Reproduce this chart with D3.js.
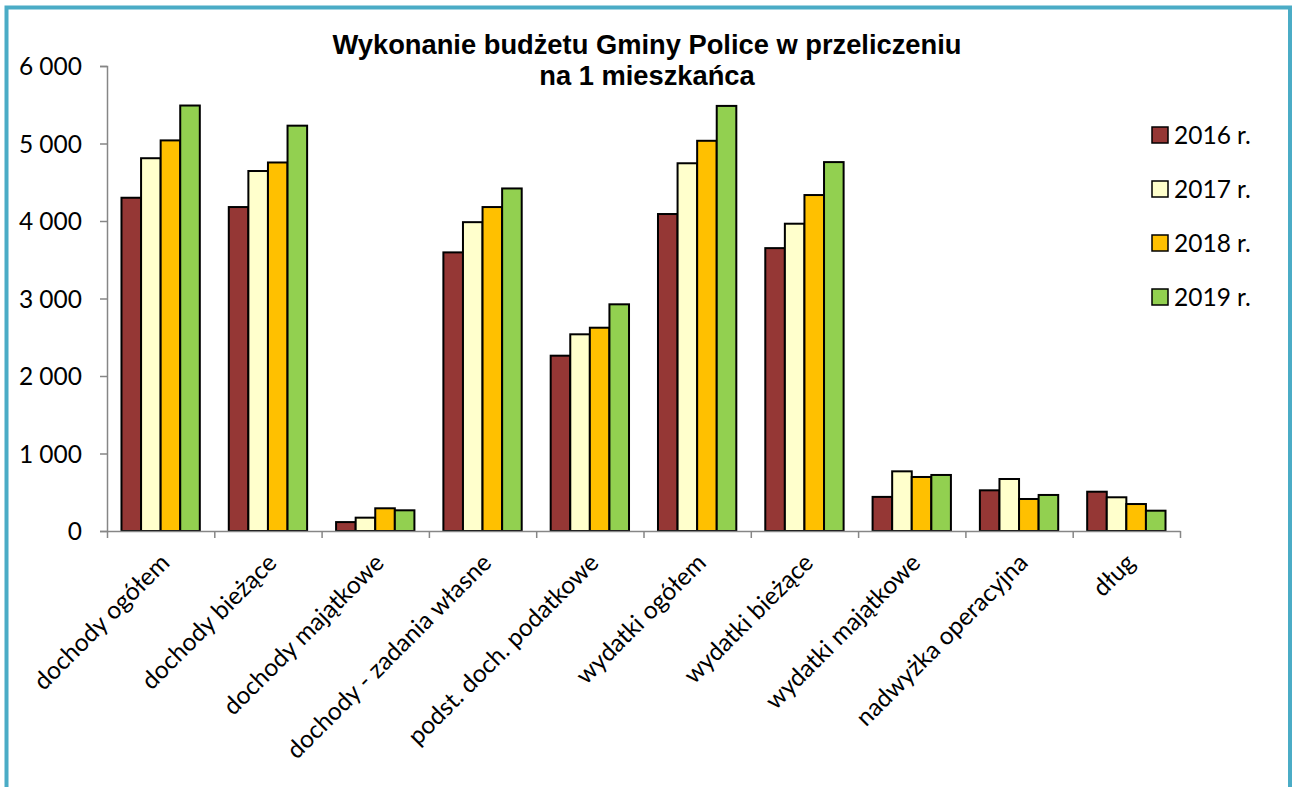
<!DOCTYPE html>
<html lang="pl">
<head>
<meta charset="utf-8">
<script src="https://cdn.jsdelivr.net/npm/d3@7"></script>
<style>
  html, body { margin: 0; padding: 0; background: #fff; }
  svg { display: block; }
  .lbl { font-family: Lato, "Open Sans", sans-serif; font-size: 24.5px; fill: #000; }
  .title { font-family: "Liberation Sans", Arial, sans-serif; font-weight: bold; font-size: 27.3px; fill: #000; }
</style>
</head>
<body>
<svg id="chart" width="1293" height="787"></svg>
<script>
// Budżet Gminy Police – wartości w zł na 1 mieszkańca
const categories = [
  "dochody ogółem",
  "dochody bieżące",
  "dochody majątkowe",
  "dochody - zadania własne",
  "podst. doch. podatkowe",
  "wydatki ogółem",
  "wydatki bieżące",
  "wydatki majątkowe",
  "nadwyżka operacyjna",
  "dług"
];
const years = ["2016 r.", "2017 r.", "2018 r.", "2019 r."];
const values2016 = [4300, 4180, 115, 3595, 2262, 4090, 3650, 440, 525, 507];
const values2017 = [4810, 4645, 172, 3985, 2538, 4745, 3965, 770, 671, 435];
const values2018 = [5040, 4755, 293, 4180, 2623, 5035, 4335, 697, 413, 348];
const values2019 = [5490, 5230, 267, 4420, 2925, 5485, 4760, 723, 465, 262];
const yTicks = [0, 1000, 2000, 3000, 4000, 5000, 6000];
const titleLines = ["Wykonanie budżetu Gminy Police w przeliczeniu", "na 1 mieszkańca"];
const colors = ["#953735", "#FFFFCC", "#FFC000", "#92D050"];

const series = [values2016, values2017, values2018, values2019];

const svg = d3.select("#chart");
const plot = { left: 107, right: 1180, top: 66, bottom: 531 };

// frame
svg.append("rect")
  .attr("x", 6.5).attr("y", 7.5)
  .attr("width", 1283.5).attr("height", 800)
  .attr("fill", "#fff")
  .attr("stroke", "#4BACC6")
  .attr("stroke-width", 4);

// scales
const pad = 0.27;
const x0 = d3.scaleBand().domain(categories)
  .range([plot.left, plot.right])
  .paddingInner(pad).paddingOuter(pad / 2);
const x1 = d3.scaleBand().domain(d3.range(years.length))
  .range([0, x0.bandwidth()]);
const y = d3.scaleLinear().domain([0, 6000]).range([plot.bottom, plot.top]);
const xEdges = d3.scaleLinear().domain([0, categories.length]).range([plot.left, plot.right]);

const pl = d3.formatLocale({ decimal: ",", thousands: "\u00a0", grouping: [3], currency: ["", " zł"] });
const fmt = pl.format(",d");

// y axis
const yAxis = svg.append("g")
  .attr("transform", `translate(${plot.left},0)`)
  .call(d3.axisLeft(y).tickValues(yTicks).tickFormat(fmt).tickSizeOuter(0).tickSize(7).tickPadding(18));
yAxis.select(".domain").attr("stroke", "#868686").attr("stroke-width", 1.5);
yAxis.selectAll(".tick line").attr("stroke", "#868686").attr("stroke-width", 1.5);
yAxis.selectAll(".tick text").attr("class", "lbl").attr("font-family", null).attr("font-size", null)
  .attr("dy", "0.36em");

// bars
const groups = svg.append("g").selectAll("g")
  .data(categories)
  .join("g")
  .attr("transform", d => `translate(${x0(d)},0)`);

groups.selectAll("rect")
  .data((c, i) => series.map((s, k) => ({ k, v: s[i] })))
  .join("rect")
  .attr("x", d => x1(d.k))
  .attr("y", d => y(d.v))
  .attr("width", x1.bandwidth())
  .attr("height", d => y(0) - y(d.v))
  .attr("fill", d => colors[d.k])
  .attr("stroke", "#000")
  .attr("stroke-width", 2);

// x axis
const xAxis = svg.append("g")
  .attr("transform", `translate(0,${plot.bottom})`)
  .call(d3.axisBottom(xEdges).tickValues(d3.range(categories.length + 1)).tickFormat("").tickSize(7).tickSizeOuter(0));
xAxis.select(".domain").attr("stroke", "#868686").attr("stroke-width", 1.5);
xAxis.selectAll(".tick line").attr("stroke", "#868686").attr("stroke-width", 1.5);

// category labels
svg.append("g").selectAll("text")
  .data(categories)
  .join("text")
  .attr("class", "lbl")
  .attr("text-anchor", "end")
  .attr("transform", d => `translate(${x0(d) + x0.bandwidth() / 2 + 4},${plot.bottom + 27}) rotate(-45)`)
  .attr("dy", "0.36em")
  .text(d => d);

// title
const title = svg.append("text")
  .attr("class", "title")
  .attr("text-anchor", "middle");
title.selectAll("tspan")
  .data(titleLines)
  .join("tspan")
  .attr("x", 647)
  .attr("y", (d, i) => 54 + i * 31)
  .text(d => d);

// legend
const legend = svg.append("g").selectAll("g")
  .data(years)
  .join("g")
  .attr("transform", (d, i) => `translate(1152,${127 + i * 54})`);
legend.append("rect")
  .attr("width", 16).attr("height", 16)
  .attr("fill", (d, i) => colors[i])
  .attr("stroke", "#000").attr("stroke-width", 1.5);
legend.append("text")
  .attr("class", "lbl")
  .attr("x", 22).attr("y", 8)
  .attr("dy", "0.36em")
  .text(d => d);
</script>
</body>
</html>
